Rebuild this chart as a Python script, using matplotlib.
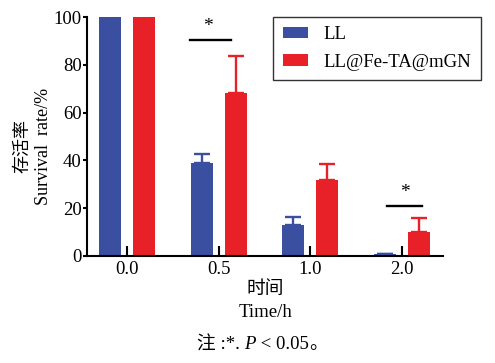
import numpy as np
import matplotlib.pyplot as plt
from matplotlib.offsetbox import TextArea, HPacker, AnchoredOffsetbox

plt.rcParams['font.family'] = ['Liberation Serif', 'Noto Sans CJK SC']

times = ['0.0', '0.5', '1.0', '2.0']
ll_mean = [100, 39, 13, 1]
ll_err = [0, 3.5, 3.3, 0]
fe_mean = [100, 68.3, 31.7, 10.2]
fe_err = [0, 15.5, 6.7, 5.8]
labels = ['LL', 'LL@Fe-TA@mGN']

blue = '#3a4f9f'
red = '#e82129'
fs = 13.5

fig = plt.figure(figsize=(4.95, 3.63), dpi=100)
ax = fig.add_axes([0.176, 0.295, 0.719, 0.658])

x = np.arange(len(times))
w = 0.24
off = 0.185
ekw = dict(elinewidth=1.7, capsize=5.5, capthick=1.7)
ax.bar(x - off, ll_mean, w, color=blue, label=labels[0],
       yerr=[np.zeros(4), ll_err], error_kw=dict(ecolor=blue, **ekw))
ax.bar(x + off, fe_mean, w, color=red, label=labels[1],
       yerr=[np.zeros(4), fe_err], error_kw=dict(ecolor=red, **ekw))

# significance marks
ax.plot([0.69, 1.13], [90.5, 90.5], color='black', lw=1.7, clip_on=False)
ax.text(0.88, 92.5, '*', ha='center', va='bottom', fontsize=14)
ax.plot([2.84, 3.22], [21, 21], color='black', lw=1.7)
ax.text(3.03, 23, '*', ha='center', va='bottom', fontsize=14)

ax.set_xlim(-0.436, 3.45)
ax.set_ylim(0, 100)
ax.set_xticks(x)
ax.set_xticklabels(times, fontsize=fs)
ax.set_yticks(range(0, 101, 20))
ax.tick_params(axis='y', labelsize=fs, width=1.5, length=3, direction='out', pad=1)
ax.tick_params(axis='x', width=1.5, length=7, direction='in', pad=4)
for s in ['top', 'right']:
    ax.spines[s].set_visible(False)
for s in ['left', 'bottom']:
    ax.spines[s].set_linewidth(1.5)

ax.set_ylabel('存活率\nSurvival  rate/%', fontsize=13, linespacing=1.25)
ax.yaxis.set_label_coords(-0.10, 0.46)
ax.set_xlabel('时间\nTime/h', fontsize=fs, linespacing=1.45, labelpad=2)

leg = fig.legend(loc='upper left', bbox_to_anchor=(0.552, 0.953), fontsize=fs,
                 frameon=True, fancybox=False, edgecolor='black', borderaxespad=0,
                 handlelength=1.35, handleheight=0.55, handletextpad=0.85,
                 borderpad=0.5, labelspacing=0.55)
leg.get_frame().set_linewidth(1.0)

# footnote with italic P
parts = [TextArea('注 :*. ', textprops=dict(fontsize=fs)),
         TextArea('P', textprops=dict(fontsize=fs, style='italic')),
         TextArea(' < 0.05', textprops=dict(fontsize=fs)),
         TextArea('。', textprops=dict(fontsize=fs))]
box = HPacker(children=parts, pad=0, sep=0, align='baseline')
anch = AnchoredOffsetbox(loc='center', child=box, frameon=False,
                         bbox_to_anchor=(0.53, 0.05), bbox_transform=fig.transFigure,
                         borderpad=0)
fig.add_artist(anch)

fig.savefig('out.png', dpi=100)
